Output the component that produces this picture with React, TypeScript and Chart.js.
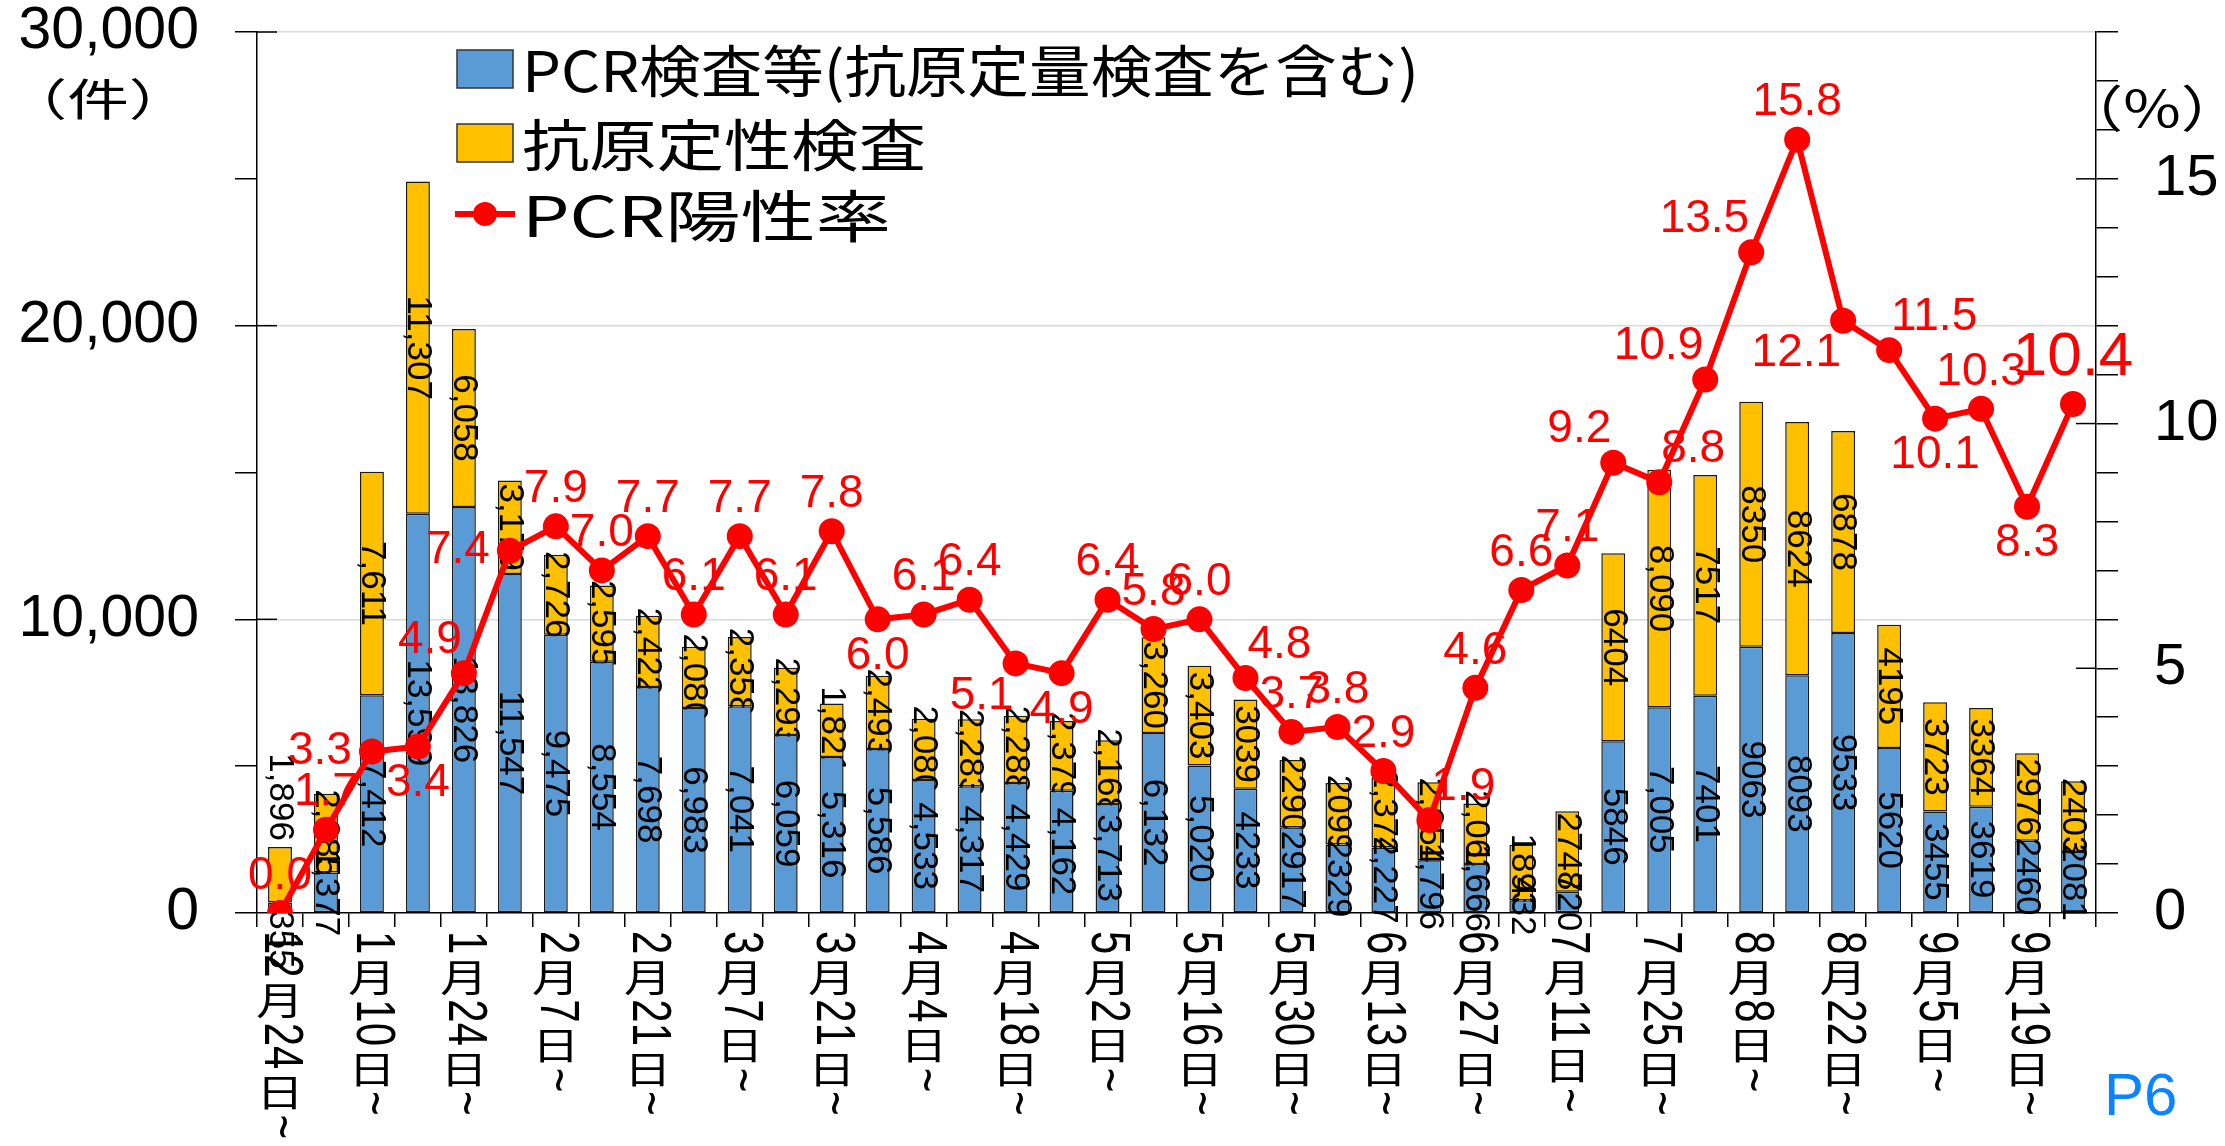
import React, { useEffect, useRef } from 'react';
import { Chart, registerables } from 'chart.js';

Chart.register(...registerables);

// ---------------- data ----------------
const CATEGORIES = [
  '12月24日~', '1月3日~', '1月10日~', '1月17日~', '1月24日~', '1月31日~', '2月7日~', '2月14日~',
  '2月21日~', '2月28日~', '3月7日~', '3月14日~', '3月21日~', '3月28日~', '4月4日~', '4月11日~',
  '4月18日~', '4月25日~', '5月2日~', '5月9日~', '5月16日~', '5月23日~', '5月30日~', '6月6日~',
  '6月13日~', '6月20日~', '6月27日~', '7月4日~', '7月11日~', '7月18日~', '7月25日~', '8月1日~',
  '8月8日~', '8月15日~', '8月22日~', '8月29日~', '9月5日~', '9月12日~', '9月19日~', '9月26日~',
];

const PCR = [
  355, 1377, 7412, 13599, 13826, 11547, 9475, 8554, 7698, 6983,
  7041, 6059, 5316, 5586, 4533, 4317, 4429, 4162, 3713, 6132,
  5020, 4233, 2917, 2329, 2227, 1796, 1666, 432, 720, 5846,
  7005, 7401, 9063, 8093, 9533, 5620, 3455, 3619, 2460, 2081,
];

const ANTIGEN = [
  1896, 2685, 7611, 11307, 6058, 3179, 2726, 2595, 2422, 2080,
  2358, 2293, 1821, 2493, 2080, 2283, 2288, 2379, 2168, 3260,
  3403, 3039, 2290, 2099, 2374, 2654, 2062, 1893, 2748, 6404,
  8090, 7517, 8350, 8624, 6878, 4195, 3723, 3364, 2976, 2403,
];

const RATE = [
  0.0, 1.7, 3.3, 3.4, 4.9, 7.4, 7.9, 7.0, 7.7, 6.1,
  7.7, 6.1, 7.8, 6.0, 6.1, 6.4, 5.1, 4.9, 6.4, 5.8,
  6.0, 4.8, 3.7, 3.8, 2.9, 1.9, 4.6, 6.6, 7.1, 9.2,
  8.8, 10.9, 13.5, 15.8, 12.1, 11.5, 10.1, 10.3, 8.3, 10.4,
];

// bars whose labels are written without thousands separators
const PLAIN_FORMAT_BARS = [21, 22, 23, 27, 28, 29, 31, 32, 33, 34, 35, 36, 37, 38, 39];

// where each rate label sits relative to its point
const RATE_LABEL_POS = [
  'T', 'T', 'L', 'B', 'TL', 'L', 'T', 'T', 'T', 'T',
  'T', 'T', 'T', 'B', 'T', 'T', 'BL', 'B', 'T', 'T',
  'T', 'TR', 'T', 'T', 'T', 'TR', 'T', 'T', 'T', 'TL',
  'TR', 'TL', 'TL', 'T', 'BL', 'TR', 'B', 'T', 'B', 'T',
];

const LEGEND_LABELS = ['PCR検査等(抗原定量検査を含む)', '抗原定性検査', 'PCR陽性率'];
const LEFT_UNIT = '（件）';
const RIGHT_UNIT = '（%）';
const PAGE_MARK = 'P6';

// ---------------- styles ----------------
const W = 2225;
const H = 1146;
const PLOT_LEFT = 257;
const PLOT_RIGHT = 2096;
const PLOT_TOP = 32;
const PLOT_BOTTOM = 913;
const BLUE = '#5B9BD5';
const YELLOW = '#FFC000';
const RED = '#FF0000';
const JP = '"Noto Sans CJK JP", "Noto Sans", sans-serif';
const LAT = '"Liberation Sans", Arial, sans-serif';

const fmtComma = (v: number) => v.toLocaleString('en-US');

function drawText(
  ctx: CanvasRenderingContext2D, s: string, x: number, y: number, font: string, color: string,
  align: CanvasTextAlign, baseline: CanvasTextBaseline, sx = 1,
) {
  ctx.save();
  ctx.font = font;
  ctx.fillStyle = color;
  ctx.textAlign = align;
  ctx.textBaseline = baseline;
  ctx.translate(x, y);
  ctx.scale(sx, 1);
  ctx.fillText(s, 0, 0);
  ctx.restore();
}

// rotated (clockwise) text centred on (cx, cy)
function drawRotated(ctx: CanvasRenderingContext2D, s: string, cx: number, cy: number, font: string, color: string, crossScale = 1) {
  ctx.save();
  ctx.font = font;
  ctx.fillStyle = color;
  ctx.textAlign = 'center';
  ctx.textBaseline = 'middle';
  ctx.translate(cx, cy);
  ctx.rotate(Math.PI / 2);
  ctx.scale(1, crossScale);
  ctx.fillText(s, 0, 0);
  ctx.restore();
}

const barLabelPlugin = {
  id: 'barLabels',
  afterDatasetDraw(chart: any, args: any) {
    const meta = args.meta;
    if (meta.type !== 'bar') return;
    const ctx: CanvasRenderingContext2D = chart.ctx;
    const isTop = args.index === 1;
    const values = chart.data.datasets[args.index].data as number[];
    const font = `35px ${LAT}`;
    ctx.save();
    ctx.font = font;
    meta.data.forEach((el: any, i: number) => {
      const v = values[i];
      const s = PLAIN_FORMAT_BARS.includes(i) ? String(v) : fmtComma(v);
      const w = ctx.measureText(s).width;
      const h = Math.abs(el.base - el.y);
      const total = PLOT_BOTTOM - el.y;
      let cy = (el.y + el.base) / 2;
      if (isTop && total < w * 0.85) cy = el.y - w / 2 - 6;
      if (!isTop && w > h * 5) cy = el.base + w / 2 - 2;
      drawRotated(ctx, s, el.x, cy, font, '#000', 1.0);
    });
    ctx.restore();
  },
};

const rateLabelPlugin = {
  id: 'rateLabels',
  afterDatasetsDraw(chart: any) {
    const ctx: CanvasRenderingContext2D = chart.ctx;
    const idx = chart.data.datasets.findIndex((d: any) => d.type === 'line');
    const meta = chart.getDatasetMeta(idx);
    meta.data.forEach((el: any, i: number) => {
      const big = i === RATE.length - 1;
      const font = `${big ? 62 : 46}px ${LAT}`;
      const s = RATE[i].toFixed(1);
      ctx.save();
      ctx.font = font;
      const w = ctx.measureText(s).width;
      ctx.restore();
      const d = big ? 46 : 37;
      let dx = 0;
      let dy = 0;
      switch (RATE_LABEL_POS[i]) {
        case 'T': dy = -d; break;
        case 'B': dy = d; break;
        case 'L': dx = -(w / 2 + 20); break;
        case 'R': dx = w / 2 + 20; break;
        case 'TL': dx = -(w / 2 + 2); dy = -d + 4; break;
        case 'TR': dx = w / 2 + 2; dy = -d + 4; break;
        case 'BL': dx = -(w / 2 + 2); dy = d - 4; break;
        case 'BR': dx = w / 2 + 2; dy = d - 4; break;
      }
      drawText(ctx, s, el.x + dx, el.y + dy, font, RED, 'center', 'middle');
    });
  },
};

const decorPlugin = {
  id: 'decor',
  afterDraw(chart: any) {
    const ctx: CanvasRenderingContext2D = chart.ctx;
    const xs = chart.scales.x;
    const ys = chart.scales.y;
    const ys2 = chart.scales.y2;
    const area = chart.chartArea;

    // inward halves of the major ticks
    ctx.save();
    ctx.strokeStyle = '#000';
    ctx.lineWidth = 1.5;
    ys.ticks.forEach((t: any) => {
      if (t.value % 10000 !== 0 || t.value === 0) return;
      const y = ys.getPixelForValue(t.value);
      ctx.beginPath();
      ctx.moveTo(area.left, y);
      ctx.lineTo(area.left + 20, y);
      ctx.stroke();
    });
    ys2.ticks.forEach((t: any) => {
      if (t.value % 5 !== 0 || t.value === 0) return;
      const y = ys2.getPixelForValue(t.value);
      ctx.beginPath();
      ctx.moveTo(area.right - 20, y);
      ctx.lineTo(area.right, y);
      ctx.stroke();
    });
    ctx.restore();

    // x-axis labels, written vertically (kanji upright, digits turned)
    const digitFont = `42px ${LAT}`;
    const kanjiFont = `38px ${JP}`;
    CATEGORIES.forEach((lab, i) => {
      if (i % 2 !== 0) return;
      const cx = xs.getPixelForValue(i);
      let y = area.bottom + 18;
      const runs = lab.match(/[0-9~]+|[^0-9~]/g) || [];
      runs.forEach((run) => {
        if (/^[0-9~]+$/.test(run)) {
          ctx.save();
          ctx.font = digitFont;
          const w = ctx.measureText(run).width;
          ctx.restore();
          drawRotated(ctx, run, cx, y + w / 2, digitFont, '#000', 1.3);
          y += w + 2;
        } else {
          drawText(ctx, run, cx, y + 1, kanjiFont, '#000', 'center', 'top', 1.25);
          y += 43;
        }
      });
    });

    // unit labels
    drawText(ctx, LEFT_UNIT, 98, 99, `44px ${JP}`, '#000', 'center', 'middle', 1.4);
    drawText(ctx, RIGHT_UNIT, 2152, 108, `50px ${JP}`, '#000', 'center', 'middle', 1.25);
    drawText(ctx, PAGE_MARK, 2104, 1115, `60px ${LAT}`, '#0A84FF', 'left', 'alphabetic');

    // legend inside plot area
    const rowsY = [69, 143, 214];
    const targetW = [897, 404, 369];
    const boxL = 457;
    const textL = 522;
    chart.data.datasets.forEach((ds: any, k: number) => {
      const y = rowsY[k];
      ctx.save();
      if (ds.type === 'line') {
        ctx.strokeStyle = ds.borderColor;
        ctx.lineWidth = 6;
        ctx.beginPath();
        ctx.moveTo(boxL - 2, y);
        ctx.lineTo(boxL + 58, y);
        ctx.stroke();
        ctx.fillStyle = ds.borderColor;
        ctx.beginPath();
        ctx.arc(boxL + 28, y, 12, 0, Math.PI * 2);
        ctx.fill();
      } else {
        ctx.fillStyle = ds.backgroundColor;
        ctx.fillRect(boxL, y - 19, 56, 38);
        ctx.strokeStyle = '#333';
        ctx.lineWidth = 1.5;
        ctx.strokeRect(boxL, y - 19, 56, 38);
      }
      const font = `56px ${JP}`;
      ctx.font = font;
      const nat = ctx.measureText(ds.label).width;
      ctx.restore();
      drawText(ctx, ds.label, textL, y + 2, font, '#000', 'left', 'middle', targetW[k] / nat);
    });
  },
};

export default function App() {
  const ref = useRef<HTMLCanvasElement | null>(null);

  useEffect(() => {
    if (!ref.current) return;
    const noVPad = (s: any) => { s.paddingTop = 0; s.paddingBottom = 0; };
    const chart = new Chart(ref.current, {
      type: 'bar',
      data: {
        labels: CATEGORIES,
        datasets: [
          {
            type: 'bar',
            label: LEGEND_LABELS[0],
            data: PCR,
            backgroundColor: BLUE,
            borderColor: '#1a1a1a',
            borderWidth: 1.5,
            borderSkipped: false,
            stack: 's',
            yAxisID: 'y',
            order: 1,
            barPercentage: 0.52,
            categoryPercentage: 1,
          },
          {
            type: 'bar',
            label: LEGEND_LABELS[1],
            data: ANTIGEN,
            backgroundColor: YELLOW,
            borderColor: '#1a1a1a',
            borderWidth: 1.5,
            borderSkipped: false,
            stack: 's',
            yAxisID: 'y',
            order: 2,
            barPercentage: 0.52,
            categoryPercentage: 1,
          },
          {
            type: 'line',
            label: LEGEND_LABELS[2],
            data: RATE,
            yAxisID: 'y2',
            borderColor: RED,
            backgroundColor: RED,
            borderWidth: 6,
            pointRadius: 13,
            pointBackgroundColor: RED,
            pointBorderWidth: 0,
            tension: 0,
            order: 0,
          },
        ] as any,
      },
      options: {
        responsive: false,
        animation: false,
        maintainAspectRatio: false,
        layout: { padding: { top: PLOT_TOP, left: 0, right: 0, bottom: 0 } },
        plugins: { legend: { display: false }, tooltip: { enabled: false } },
        scales: {
          x: {
            stacked: true,
            offset: true,
            grid: { offset: true, drawOnChartArea: false, drawTicks: true, tickLength: 14, color: '#000', lineWidth: 1.5 },
            border: { color: '#000', width: 1.5 },
            ticks: { display: false },
            afterFit: (s: any) => { s.height = H - PLOT_BOTTOM; s.paddingLeft = 0; s.paddingRight = 0; },
          },
          y: {
            stacked: true,
            position: 'left',
            min: 0,
            max: 30000,
            ticks: {
              stepSize: 5000,
              autoSkip: false,
              callback: (v: any) => (Number(v) % 10000 === 0 ? fmtComma(Number(v)) : ''),
              font: { family: LAT, size: 59 },
              color: '#000',
              padding: 36,
            },
            grid: {
              color: (c: any) => (c.tick && c.tick.value > 0 && c.tick.value % 10000 === 0 ? '#d9d9d9' : 'rgba(0,0,0,0)'),
              tickColor: '#000',
              tickLength: 22,
              lineWidth: 1.5,
            },
            border: { color: '#000', width: 1.5 },
            afterFit: (s: any) => { s.width = PLOT_LEFT; noVPad(s); },
          },
          y2: {
            position: 'right',
            min: 0,
            max: 18,
            ticks: {
              stepSize: 1,
              autoSkip: false,
              callback: (v: any) => (Number(v) % 5 === 0 ? String(v) : ''),
              font: { family: LAT, size: 58 },
              color: '#000',
              padding: 36,
            },
            grid: { drawOnChartArea: false, tickColor: '#000', tickLength: 22, lineWidth: 1.5 },
            border: { color: '#000', width: 1.5 },
            afterFit: (s: any) => { s.width = W - PLOT_RIGHT; noVPad(s); },
          },
        },
      } as any,
      plugins: [barLabelPlugin, rateLabelPlugin, decorPlugin],
    });
    return () => chart.destroy();
  }, []);

  return (
    <div style={{ position: 'fixed', left: 0, top: 0, width: W, height: H, background: '#fff' }}>
      <canvas ref={ref} width={W} height={H} style={{ width: W, height: H, display: 'block' }} />
    </div>
  );
}
